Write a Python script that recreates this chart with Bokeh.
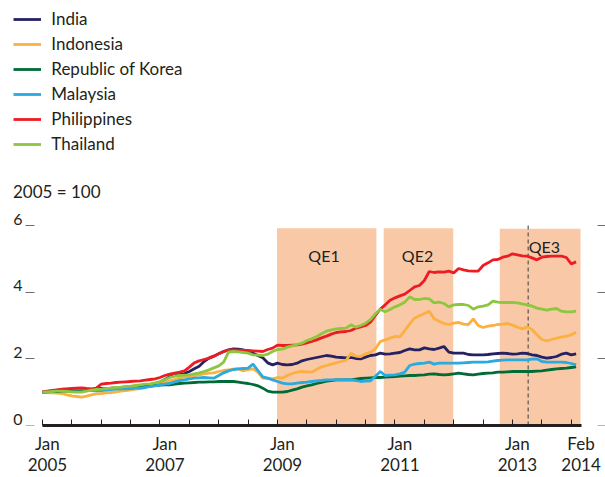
from bokeh.plotting import figure
from bokeh.models import (Range1d, LinearAxis, FixedTicker, NumeralTickFormatter,
                          Legend, LegendItem, Label)
from bokeh.core.properties import value
from bokeh.embed import file_html
from bokeh.resources import INLINE

# months since Jan 2005 (Jan 2005 .. Feb 2014)
months = list(range(110))

india = [1.00, 1.01, 1.02, 1.03, 1.04, 1.05, 1.06, 1.07, 1.08, 1.07, 1.08, 1.10,
         1.11, 1.10, 1.12, 1.12, 1.13, 1.14, 1.15, 1.18, 1.20, 1.22, 1.22, 1.25,
         1.30, 1.38, 1.46, 1.50, 1.53, 1.56, 1.62, 1.70, 1.78, 1.92, 2.02, 2.08,
         2.15, 2.22, 2.27, 2.30, 2.29, 2.27, 2.22, 2.17, 2.10, 2.03, 1.88, 1.82,
         1.87, 1.83, 1.82, 1.83, 1.87, 1.94, 1.98, 2.01, 2.04, 2.07, 2.10, 2.08,
         2.05, 2.04, 2.03, 2.04, 2.01, 2.00, 2.05, 2.10, 2.12, 2.17, 2.14, 2.15,
         2.17, 2.19, 2.25, 2.30, 2.27, 2.27, 2.33, 2.30, 2.28, 2.32, 2.37, 2.20,
         2.17, 2.17, 2.17, 2.13, 2.12, 2.12, 2.12, 2.13, 2.15, 2.16, 2.17, 2.16,
         2.14, 2.15, 2.17, 2.16, 2.12, 2.10, 2.05, 2.02, 2.04, 2.07, 2.14, 2.17,
         2.12, 2.15]

indonesia = [1.00, 0.99, 0.98, 0.97, 0.96, 0.92, 0.89, 0.87, 0.85, 0.88, 0.92, 0.95,
             0.96, 0.98, 0.99, 1.01, 1.03, 1.05, 1.07, 1.09, 1.11, 1.14, 1.18, 1.22,
             1.25, 1.28, 1.34, 1.38, 1.42, 1.45, 1.47, 1.50, 1.52, 1.55, 1.57, 1.58,
             1.62, 1.65, 1.67, 1.69, 1.70, 1.64, 1.68, 1.70, 1.60, 1.42, 1.41, 1.40,
             1.44, 1.42, 1.50, 1.56, 1.60, 1.62, 1.61, 1.60, 1.68, 1.76, 1.80, 1.84,
             1.88, 1.92, 1.95, 2.17, 2.08, 2.07, 2.15, 2.20, 2.30, 2.52, 2.57, 2.62,
             2.67, 2.66, 2.85, 3.05, 3.22, 3.29, 3.36, 3.43, 3.20, 3.13, 3.06, 3.03,
             3.07, 3.09, 3.04, 3.03, 3.20, 3.00, 2.94, 2.98, 3.00, 3.03, 3.04, 3.06,
             3.01, 2.95, 2.90, 2.96, 2.88, 2.72, 2.58, 2.54, 2.58, 2.62, 2.65, 2.68,
             2.72, 2.80]

korea = [1.00, 1.01, 1.02, 1.02, 1.03, 1.04, 1.05, 1.05, 1.06, 1.07, 1.08, 1.09,
         1.10, 1.10, 1.11, 1.12, 1.13, 1.14, 1.15, 1.16, 1.17, 1.18, 1.19, 1.20,
         1.21, 1.22, 1.22, 1.24, 1.26, 1.27, 1.28, 1.29, 1.30, 1.30, 1.31, 1.31,
         1.32, 1.32, 1.32, 1.32, 1.30, 1.28, 1.26, 1.23, 1.19, 1.12, 1.03, 1.00,
         1.00, 1.00, 1.02, 1.06, 1.10, 1.15, 1.19, 1.22, 1.26, 1.29, 1.33, 1.35,
         1.37, 1.37, 1.37, 1.37, 1.39, 1.41, 1.42, 1.43, 1.44, 1.44, 1.45, 1.46,
         1.47, 1.48, 1.49, 1.50, 1.50, 1.51, 1.52, 1.54, 1.55, 1.53, 1.52, 1.53,
         1.55, 1.57, 1.55, 1.53, 1.52, 1.54, 1.56, 1.57, 1.58, 1.60, 1.60, 1.61,
         1.62, 1.62, 1.62, 1.62, 1.62, 1.63, 1.64, 1.66, 1.68, 1.70, 1.71, 1.72,
         1.74, 1.76]

malaysia = [1.00, 1.02, 1.04, 1.06, 1.08, 1.09, 1.10, 1.10, 1.10, 1.08, 1.05, 1.04,
            1.05, 1.06, 1.08, 1.09, 1.10, 1.10, 1.11, 1.12, 1.12, 1.14, 1.17, 1.19,
            1.22, 1.24, 1.26, 1.31, 1.35, 1.37, 1.40, 1.42, 1.43, 1.44, 1.43, 1.42,
            1.50, 1.58, 1.64, 1.68, 1.70, 1.71, 1.72, 1.84, 1.65, 1.46, 1.42, 1.37,
            1.32, 1.27, 1.25, 1.25, 1.27, 1.29, 1.30, 1.32, 1.34, 1.35, 1.37, 1.37,
            1.37, 1.37, 1.38, 1.37, 1.35, 1.32, 1.33, 1.34, 1.48, 1.62, 1.50, 1.51,
            1.52, 1.55, 1.60, 1.80, 1.84, 1.86, 1.87, 1.90, 1.84, 1.87, 1.87, 1.87,
            1.87, 1.87, 1.88, 1.89, 1.90, 1.90, 1.90, 1.91, 1.93, 1.95, 1.96, 1.97,
            1.97, 1.97, 1.97, 1.97, 1.99, 2.00, 1.92, 1.90, 1.90, 1.90, 1.90, 1.89,
            1.86, 1.82]

philippines = [1.00, 1.03, 1.05, 1.07, 1.09, 1.10, 1.11, 1.12, 1.13, 1.11, 1.10, 1.12,
               1.24, 1.26, 1.27, 1.29, 1.30, 1.31, 1.32, 1.33, 1.34, 1.36, 1.38, 1.40,
               1.44, 1.50, 1.54, 1.57, 1.60, 1.64, 1.75, 1.88, 1.94, 1.98, 2.02, 2.08,
               2.15, 2.22, 2.26, 2.27, 2.26, 2.25, 2.25, 2.24, 2.23, 2.22, 2.28, 2.32,
               2.41, 2.40, 2.40, 2.41, 2.42, 2.44, 2.48, 2.52, 2.57, 2.63, 2.68, 2.74,
               2.79, 2.81, 2.82, 2.85, 2.92, 2.96, 3.00, 3.10, 3.30, 3.49, 3.62, 3.76,
               3.83, 3.89, 3.94, 4.05, 4.16, 4.20, 4.35, 4.62, 4.59, 4.61, 4.60, 4.63,
               4.58, 4.71, 4.67, 4.64, 4.63, 4.63, 4.80, 4.88, 4.97, 4.98, 5.05, 5.08,
               5.15, 5.12, 5.09, 5.08, 5.03, 4.97, 5.05, 5.07, 5.08, 5.08, 5.08, 5.04,
               4.85, 4.91]

thailand = [1.00, 1.01, 1.02, 1.03, 1.03, 1.02, 1.01, 1.00, 1.00, 1.03, 1.06, 1.08,
            1.09, 1.11, 1.12, 1.14, 1.15, 1.17, 1.18, 1.20, 1.22, 1.24, 1.25, 1.28,
            1.32, 1.37, 1.44, 1.48, 1.50, 1.51, 1.52, 1.55, 1.58, 1.62, 1.67, 1.73,
            1.79, 1.90, 2.20, 2.22, 2.21, 2.19, 2.17, 2.12, 2.11, 2.10, 2.14, 2.22,
            2.28, 2.29, 2.35, 2.39, 2.43, 2.47, 2.55, 2.60, 2.67, 2.75, 2.83, 2.87,
            2.90, 2.91, 2.92, 3.02, 2.95, 3.00, 3.07, 3.18, 3.35, 3.49, 3.41, 3.48,
            3.56, 3.62, 3.70, 3.86, 3.78, 3.78, 3.81, 3.80, 3.68, 3.70, 3.66, 3.56,
            3.62, 3.63, 3.63, 3.60, 3.49, 3.56, 3.58, 3.62, 3.73, 3.70, 3.69, 3.69,
            3.69, 3.68, 3.65, 3.62, 3.58, 3.52, 3.49, 3.46, 3.49, 3.51, 3.43, 3.41,
            3.41, 3.43]

series_names = ["India", "Indonesia", "Republic of Korea", "Malaysia", "Philippines", "Thailand"]
series_values = [india, indonesia, korea, malaysia, philippines, thailand]
series_colors = ["#262262", "#fbb040", "#006b37", "#29aae1", "#ed1c24", "#8dc63f"]

# QE periods, in months since Jan 2005
qe_names = ["QE1", "QE2", "QE3"]
qe_start = [47.9, 69.7, 93.4]
qe_end = [68.2, 83.9, 109.9]
qe_top = [5.92, 5.92, 5.90]
qe_label_x = [57.5, 76.6, 102.5]
qe_label_y = [5.09, 5.09, 5.36]
qe3_marker = [99.2]

x_start, x_end = 0, 110.1          # span of the time axis (months)
x_tick_months = list(range(0, 110, 6))
x_label_months = [1, 25, 49, 73, 97, 110]
x_labels = ["Jan\n2005", "Jan\n2007", "Jan\n2009", "Jan\n2011", "Jan\n2013", "Feb\n2014"]
y_ticks = [0, 2, 4, 6]

TXT = "#231f20"
FONT = "Lato"
TICK = "#6d6e71"

p = figure(width=605, height=477, x_range=Range1d(-8.58, 115.0), y_range=Range1d(0, 12.75),
           output_backend="svg", toolbar_location=None,
           x_axis_location=None, y_axis_location=None,
           min_border=0, min_border_bottom=49,
           outline_line_color=None, background_fill_color="white", border_fill_color="white")
p.grid.grid_line_color = None

p.quad(left=qe_start, right=qe_end, bottom=0, top=qe_top,
       fill_color="#f9c9a7", line_color=None)
p.segment(x0=qe3_marker, y0=[0], x1=qe3_marker, y1=[6.0],
          line_color="#3a3a3a", line_width=1, line_dash="4 3")
p.text(x=qe_label_x, y=qe_label_y, text=qe_names, text_font=value(FONT),
       text_font_size="16px", text_align="center", text_baseline="middle", text_color=TXT)

items = []
for name, vals, col in zip(series_names, series_values, series_colors):
    r = p.line(months, vals, line_color=col, line_width=2.8)
    items.append(LegendItem(label=name, renderers=[r]))

legend = Legend(items=items, location=(13.3, 270.6), orientation="vertical",
                glyph_width=28, glyph_height=20, label_height=20, label_standoff=10,
                spacing=4, padding=0, margin=0, border_line_alpha=0,
                background_fill_alpha=0, label_text_font=FONT,
                label_text_font_size="17px", label_text_color=TXT)
p.add_layout(legend, "center")

p.add_layout(Label(x=-6.03, y=7.02, text="2005 = 100", text_font=FONT,
                   text_font_size="17px", text_baseline="middle", text_color=TXT))

# x axis: ticks and thick baseline, limited to the time span
xa1 = LinearAxis(ticker=FixedTicker(ticks=x_tick_months, minor_ticks=[]),
                 bounds=(x_start, x_end),
                 major_label_overrides={t: "" for t in x_tick_months},
                 axis_line_color=TXT, axis_line_width=3,
                 major_tick_in=6, major_tick_out=0, major_tick_line_color=TXT,
                 major_label_text_font_size="1px", major_label_standoff=0)
xa2 = LinearAxis(ticker=FixedTicker(ticks=x_label_months, minor_ticks=[]),
                 major_label_overrides=dict(zip(x_label_months, x_labels)),
                 axis_line_color=None, major_tick_line_color=None,
                 major_tick_in=0, major_tick_out=0, major_label_standoff=7,
                 major_label_text_font=FONT, major_label_text_font_size="17px",
                 major_label_text_line_height=1.0, major_label_text_color=TXT)
p.add_layout(xa1, "below")
p.add_layout(xa2, "below")

# y axis: ticks at the start of the time span, labels sitting on the ticks
ya1 = LinearAxis(ticker=FixedTicker(ticks=y_ticks, minor_ticks=[]),
                 fixed_location=x_start,
                 major_label_overrides={t: "" for t in y_ticks},
                 axis_line_color=None, major_tick_in=-8, major_tick_out=17,
                 major_tick_line_color=TICK, major_label_text_font_size="1px",
                 major_label_standoff=0)
ya2 = LinearAxis(ticker=FixedTicker(ticks=[t + 0.19 for t in y_ticks], minor_ticks=[]),
                 fixed_location=x_start,
                 formatter=NumeralTickFormatter(format="0"),
                 axis_line_color=None, major_tick_line_color=None,
                 major_tick_in=0, major_tick_out=0, major_label_standoff=20,
                 major_label_text_font=FONT, major_label_text_font_size="16px",
                 major_label_text_color=TXT)
p.add_layout(ya1, "left")
p.add_layout(ya2, "left")

yr = LinearAxis(ticker=FixedTicker(ticks=y_ticks, minor_ticks=[]),
                fixed_location=x_end,
                major_label_overrides={t: "" for t in y_ticks},
                axis_line_color=None, major_tick_in=-16, major_tick_out=24,
                major_tick_line_color=TICK, major_label_text_font_size="1px",
                major_label_standoff=0)
p.add_layout(yr, "right")

open("out.html", "w").write(file_html(p, INLINE))
